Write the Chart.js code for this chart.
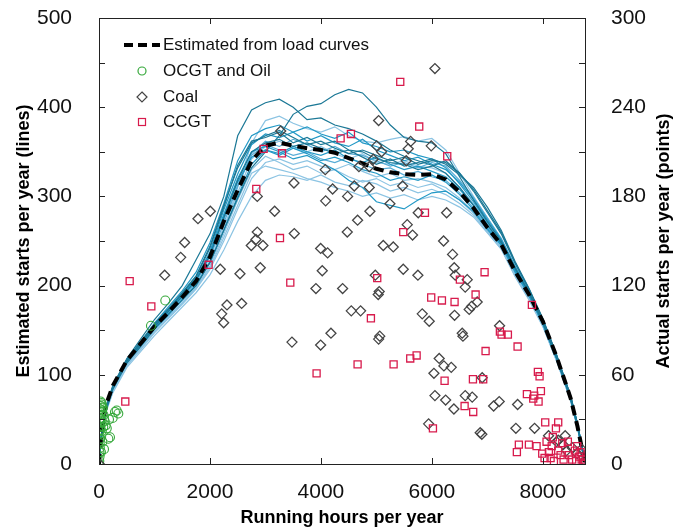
<!DOCTYPE html>
<html>
<head>
<meta charset="utf-8">
<script src="https://cdn.jsdelivr.net/npm/chart.js@4.4.1/dist/chart.umd.min.js"></script>
<style>
html, body { margin: 0; padding: 0; background: #fff; }
#wrap { width: 677px; height: 532px; }
</style>
</head>
<body>
<div id="wrap"><canvas id="chart" width="677" height="532"></canvas></div>
<script>
// running hours grid shared by all the load-curve lines
const hours = [0, 50, 125, 250, 500, 750, 1000, 1250, 1500, 1750, 2000, 2250, 2500, 2750, 3000, 3250, 3500, 3750, 4000, 4250, 4500, 4750, 5000, 5250, 5500, 5750, 6000, 6250, 6500, 6750, 7000, 7250, 7500, 7750, 8000, 8250, 8500, 8625, 8760]

const estimated = [0, 38, 66, 88, 116, 135, 154, 170, 187, 205, 232, 272, 307, 340, 357, 360, 357, 354, 352, 349, 343, 337, 331, 327, 325, 324, 325, 319, 305, 287, 265, 246, 216, 190, 160, 120, 74, 42, 0]

const sim01 = [0, 36, 64, 88, 118, 140, 162, 180, 200, 229, 258, 300, 368, 397, 405, 409, 400, 386, 388, 380, 376, 370, 362, 352, 345, 340, 335, 326, 310, 290, 268, 248, 219, 192, 160, 120, 75, 44, 2]
const sim02 = [0, 34, 60, 84, 113, 132, 152, 168, 184, 200, 226, 262, 298, 332, 350, 368, 392, 401, 404, 414, 420, 416, 400, 380, 366, 362, 360, 348, 322, 296, 272, 250, 220, 192, 158, 118, 73, 42, 1]
const sim03 = [0, 36, 63, 87, 117, 137, 158, 176, 194, 215, 248, 292, 340, 368, 376, 380, 372, 378, 370, 365, 372, 360, 356, 350, 352, 346, 342, 332, 314, 294, 271, 250, 219, 191, 159, 119, 74, 43, 1]
const sim04 = [0, 35, 62, 86, 116, 135, 155, 172, 190, 208, 238, 285, 325, 358, 370, 366, 372, 362, 368, 360, 356, 364, 352, 346, 340, 344, 336, 330, 316, 297, 274, 252, 221, 193, 160, 120, 75, 44, 2]
const sim05 = [0, 34, 61, 85, 114, 133, 153, 169, 186, 204, 232, 270, 312, 348, 362, 356, 364, 358, 350, 356, 348, 346, 340, 334, 338, 332, 338, 334, 318, 299, 276, 253, 222, 194, 161, 121, 76, 45, 2]
const sim06 = [0, 35, 63, 86, 116, 136, 156, 173, 191, 210, 242, 288, 335, 362, 366, 372, 360, 366, 358, 362, 352, 350, 342, 338, 336, 330, 334, 340, 326, 306, 282, 258, 225, 196, 162, 122, 76, 45, 2]
const sim07 = [0, 33, 60, 84, 113, 132, 151, 167, 184, 201, 226, 262, 300, 336, 352, 348, 356, 350, 346, 352, 342, 338, 344, 336, 330, 334, 328, 322, 308, 290, 268, 247, 217, 190, 158, 118, 73, 42, 1]
const sim08 = [0, 35, 62, 85, 115, 134, 154, 171, 188, 206, 234, 276, 318, 350, 360, 364, 356, 360, 354, 348, 352, 344, 336, 342, 334, 338, 342, 336, 324, 310, 288, 262, 227, 197, 163, 122, 77, 45, 2]
const sim09 = [0, 34, 61, 84, 113, 132, 151, 167, 183, 200, 225, 262, 310, 360, 385, 390, 382, 376, 372, 378, 368, 362, 360, 364, 367, 362, 365, 352, 326, 300, 276, 252, 221, 193, 160, 120, 75, 44, 2]
const sim10 = [0, 33, 59, 82, 110, 128, 147, 163, 179, 196, 218, 250, 286, 320, 338, 342, 336, 340, 334, 330, 336, 328, 322, 326, 318, 320, 316, 310, 298, 282, 262, 243, 213, 187, 156, 116, 72, 41, 1]
const sim11 = [0, 32, 58, 80, 108, 126, 144, 160, 176, 192, 212, 240, 272, 300, 318, 324, 322, 318, 324, 316, 312, 318, 314, 306, 310, 304, 308, 302, 292, 279, 260, 241, 211, 185, 155, 116, 71, 40, 1]
const sim12 = [0, 34, 60, 83, 112, 130, 149, 165, 181, 198, 222, 258, 296, 330, 345, 338, 330, 334, 326, 330, 322, 316, 320, 312, 316, 310, 314, 306, 296, 281, 261, 242, 212, 186, 155, 116, 72, 41, 1]
const sim13 = [0, 35, 62, 86, 116, 136, 156, 173, 190, 208, 236, 278, 316, 344, 352, 346, 354, 348, 340, 344, 338, 330, 326, 318, 322, 318, 324, 316, 302, 285, 264, 246, 216, 189, 157, 118, 73, 42, 1]
const sim14 = [0, 34, 61, 85, 114, 133, 153, 170, 187, 206, 234, 274, 312, 346, 358, 352, 346, 350, 342, 338, 344, 336, 330, 332, 324, 328, 322, 318, 304, 287, 266, 247, 217, 190, 158, 119, 74, 43, 1]
const sim15 = [0, 34, 61, 84, 113, 132, 152, 168, 185, 202, 228, 266, 304, 342, 356, 362, 354, 350, 356, 348, 342, 348, 338, 336, 340, 334, 332, 326, 310, 292, 270, 249, 219, 191, 159, 119, 74, 43, 1]
const sim16 = [0, 35, 62, 85, 115, 135, 155, 171, 188, 207, 236, 280, 320, 350, 356, 350, 342, 346, 338, 330, 318, 310, 294, 290, 286, 296, 304, 306, 296, 283, 263, 245, 215, 189, 157, 118, 73, 42, 1]
const sim17 = [0, 36, 63, 87, 117, 137, 157, 174, 192, 211, 244, 290, 332, 360, 368, 374, 366, 358, 362, 354, 348, 352, 346, 340, 344, 336, 340, 338, 326, 308, 284, 260, 226, 196, 162, 121, 76, 44, 2]
const sim18 = [0, 33, 59, 82, 111, 129, 148, 164, 180, 197, 220, 254, 290, 326, 334, 330, 326, 320, 316, 310, 306, 300, 304, 298, 302, 296, 300, 296, 288, 277, 259, 241, 210, 184, 154, 115, 71, 40, 1]

// actual plant starts (right axis)
const ocgtHours = [0, 5, 10, 8, 15, 12, 20, 6, 18, 25, 10, 30, 22, 40, 15, 35, 48, 60, 28, 45, 70, 55, 80, 18, 77, 100, 120, 140, 168, 198, 246, 288, 319, 348, 180, 60, 90, 35, 50, 65, 937, 1195]
const ocgtStarts = [0, 2, 5, 8, 11, 14, 17, 20, 23, 25, 28, 30, 33, 35, 37, 39, 40, 38, 42, 41, 38, 36, 33, 31, 25, 29, 26, 24, 17, 18, 31, 35, 36, 34, 30, 15, 10, 8, 22, 28, 93, 110]

const coalHours = [3275, 2853, 3514, 4078, 4211, 4085, 2006, 1784, 3166, 2853, 2829, 2745, 2955, 3520, 3995, 4121, 1544, 1472, 1184, 2186, 2541, 2907, 2307, 2571, 2211, 2247, 3478, 3995, 4181, 3910, 4024, 4391, 5, 5124, 5304, 6211, 6373, 6403, 6421, 6637, 6601, 5484, 5748, 4980, 5051, 5033, 4547, 4715, 5040, 5060, 5826, 5952, 6409, 6817, 6715, 6673, 6547, 6560, 7220, 6132, 6217, 6349, 6037, 6907, 6055, 6248, 6397, 6601, 6727, 7113, 7214, 7545, 5941, 6871, 6900, 7514, 7851, 8103, 8248, 8403, 8277, 8367, 8427, 8529, 8619, 8698, 8750, 6055, 5040, 5617, 5574, 5988, 5004, 5094, 4943, 4871, 4685, 5538, 4601, 4871, 5473, 4481, 5244, 4883, 5754, 6266, 4661, 5556, 5652, 4475]
const coalStarts = [224, 180, 189, 198, 185, 177, 170, 165, 170, 156, 151, 147, 147, 155, 145, 142, 149, 139, 127, 131, 128, 132, 107, 108, 101, 95, 82, 80, 88, 118, 130, 118, 0, 147, 146, 150, 141, 132, 127, 124, 119, 131, 127, 127, 116, 114, 103, 103, 84, 86, 101, 96, 100, 109, 106, 104, 88, 86, 93, 71, 66, 65, 61, 58, 46, 43, 37, 46, 45, 39, 42, 40, 27, 21, 20, 24, 24, 19, 15, 19, 16, 13, 9, 11, 7, 10, 2, 266, 231, 217, 212, 214, 214, 210, 205, 200, 200, 204, 187, 186, 187, 180, 175, 170, 169, 169, 164, 161, 154, 156]

const ccgtHours = [2967, 3298, 2835, 3262, 4355, 553, 943, 1976, 3448, 3922, 474, 5015, 6950, 6505, 6788, 5988, 6181, 6409, 4901, 7226, 7256, 7370, 7545, 6968, 7803, 4661, 5310, 5610, 5725, 6229, 6740, 6925, 6590, 6745, 6019, 7911, 7941, 7713, 7845, 7827, 7923, 7965, 8043, 8277, 8236, 7568, 7749, 7532, 7887, 7989, 8067, 8109, 8140, 8031, 8277, 8374, 8451, 8529, 8578, 8655, 8728, 8752, 8680, 5430, 5772, 6277, 4541, 5875, 5484, 8160, 8200, 8320, 8470, 8600, 8700, 8620, 8350, 8180, 8760]
const ccgtStarts = [212, 209, 185, 152, 219, 123, 106, 134, 122, 61, 42, 125, 129, 124, 114, 112, 110, 109, 98, 89, 87, 87, 79, 76, 107, 67, 67, 71, 73, 56, 57, 57, 39, 35, 24, 62, 59, 47, 46, 44, 42, 49, 28, 28, 24, 13, 13, 8, 12, 7, 15, 8, 4, 4, 9, 3, 15, 3, 9, 5, 1, 0, 8, 257, 227, 207, 222, 169, 156, 12, 2, 6, 6, 2, 3, 12, 14, 18, 0]

// axis ticks
const xTicks = [0, 2000, 4000, 6000, 8000]
const leftLabels = [0, 100, 200, 300, 400, 500]
const leftMarks = [0, 50, 100, 150, 200, 250, 300, 350, 400, 450, 500]
const rightLabels = [0, 60, 120, 180, 240, 300]
const rightMarks = [0, 30, 60, 90, 120, 150, 180, 210, 240, 270, 300]

const DARK = '#1b7896'
const MID = '#2399c6'
const SOFT = '#56acd6'
const LIGHT = '#8cc4e3'

const sims = [
    [sim11, LIGHT], [sim18, LIGHT], [sim12, LIGHT], [sim10, LIGHT], [sim15, LIGHT], [sim09, LIGHT],
    [sim05, SOFT], [sim14, SOFT], [sim13, MID], [sim16, MID], [sim07, MID], [sim04, MID], [sim03, MID],
    [sim17, DARK], [sim08, DARK], [sim06, DARK], [sim02, DARK], [sim01, DARK]
]

const FONT = '"Liberation Sans", Arial, Helvetica, sans-serif'

function xy(xs, ys) {
    return xs.map((x, i) => ({x: x, y: ys[i]}))
}

const datasets = []
datasets.push({type: 'scatter', data: xy(ccgtHours, ccgtStarts), yAxisID: 'y2', order: 0,
    pointStyle: 'rect', pointRadius: 5, borderColor: '#d81b4c', backgroundColor: 'transparent', pointBorderWidth: 1.3})
datasets.push({type: 'scatter', data: xy(coalHours, coalStarts), yAxisID: 'y2', order: 1,
    pointStyle: 'rectRot', pointRadius: 5, borderColor: '#454545', backgroundColor: 'transparent', pointBorderWidth: 1.3})
datasets.push({type: 'scatter', data: xy(ocgtHours, ocgtStarts), yAxisID: 'y2', order: 2,
    pointStyle: 'circle', pointRadius: 4.5, borderColor: '#35a83a', backgroundColor: 'transparent', pointBorderWidth: 1.1})
datasets.push({type: 'line', data: xy(hours, estimated), yAxisID: 'y', order: 3,
    borderColor: '#000', borderWidth: 4, borderDash: [10, 6], pointRadius: 0, tension: 0, fill: false})
sims.forEach((s, i) => {
    datasets.push({type: 'line', data: xy(hours, s[0]), yAxisID: 'y', order: 40 - i,
        borderColor: s[1], borderWidth: 1.2, pointRadius: 0, tension: 0, fill: false})
})

const framePlugin = {
    id: 'frame',
    afterDraw(chart) {
        const ctx = chart.ctx
        const a = chart.chartArea
        const sx = chart.scales.x, sy = chart.scales.y, sy2 = chart.scales.y2
        ctx.save()
        ctx.strokeStyle = '#222'
        ctx.lineWidth = 1
        ctx.setLineDash([])
        ctx.strokeRect(Math.round(a.left) + 0.5, Math.round(a.top) + 0.5, Math.round(a.right - a.left), Math.round(a.bottom - a.top))
        ctx.beginPath()
        leftMarks.forEach(v => {
            const y = Math.round(sy.getPixelForValue(v)) + 0.5
            ctx.moveTo(a.left, y); ctx.lineTo(a.left + 6, y)
        })
        rightMarks.forEach(v => {
            const y = Math.round(sy2.getPixelForValue(v)) + 0.5
            ctx.moveTo(a.right, y); ctx.lineTo(a.right - 6, y)
        })
        xTicks.forEach(v => {
            const x = Math.round(sx.getPixelForValue(v)) + 0.5
            ctx.moveTo(x, a.bottom); ctx.lineTo(x, a.bottom - 6)
            ctx.moveTo(x, a.top); ctx.lineTo(x, a.top + 6)
        })
        ctx.stroke()

        // axis titles
        ctx.fillStyle = '#000'
        ctx.font = 'bold 18px ' + FONT
        ctx.textAlign = 'center'
        ctx.textBaseline = 'middle'
        ctx.fillText('Running hours per year', (a.left + a.right) / 2, 518)
        ctx.save()
        ctx.translate(24, (a.top + a.bottom) / 2)
        ctx.rotate(-Math.PI / 2)
        ctx.fillText('Estimated starts per year (lines)', 0, 0)
        ctx.restore()
        ctx.save()
        ctx.translate(664, (a.top + a.bottom) / 2)
        ctx.rotate(-Math.PI / 2)
        ctx.fillText('Actual starts per year (points)', 0, 0)
        ctx.restore()

        // legend
        const lx = a.left + 43, tx = a.left + 64
        ctx.font = '17px ' + FONT
        ctx.textAlign = 'left'
        ctx.fillStyle = '#111'
        ctx.strokeStyle = '#000'
        ctx.lineWidth = 4
        ctx.setLineDash([9, 5])
        ctx.beginPath(); ctx.moveTo(a.left + 25, 45); ctx.lineTo(a.left + 61, 45); ctx.stroke()
        ctx.setLineDash([])
        ctx.fillText('Estimated from load curves', tx, 45)
        ctx.lineWidth = 1.2
        ctx.strokeStyle = '#35a83a'
        ctx.beginPath(); ctx.arc(lx, 71, 4, 0, Math.PI * 2); ctx.stroke()
        ctx.fillText('OCGT and Oil', tx, 71)
        ctx.strokeStyle = '#454545'
        ctx.beginPath(); ctx.moveTo(lx, 92); ctx.lineTo(lx + 5, 97); ctx.lineTo(lx, 102); ctx.lineTo(lx - 5, 97); ctx.closePath(); ctx.stroke()
        ctx.fillText('Coal', tx, 97)
        ctx.strokeStyle = '#d81b4c'
        ctx.strokeRect(lx - 3.5, 118.5, 7, 7)
        ctx.fillText('CCGT', tx, 122)
        ctx.restore()
    }
}

const tickFont = {family: FONT, size: 21}
const plain = v => String(v)

const chart = new Chart(document.getElementById('chart').getContext('2d'), {
    data: {datasets: datasets},
    options: {
        responsive: false,
        animation: false,
        devicePixelRatio: 1,
        layout: {padding: {top: 18, left: 0, right: 0, bottom: 0}},
        plugins: {legend: {display: false}, tooltip: {enabled: false}},
        scales: {
            x: {
                type: 'linear', min: 0, max: 8760,
                afterBuildTicks: s => { s.ticks = xTicks.map(v => ({value: v})) },
                afterFit: s => { s.height = 68; s.paddingLeft = 0; s.paddingRight = 0 },
                ticks: {font: tickFont, color: '#111', padding: 8, maxRotation: 0, autoSkip: false, callback: plain},
                grid: {display: false}, border: {display: false}
            },
            y: {
                type: 'linear', position: 'left', min: 0, max: 500,
                afterBuildTicks: s => { s.ticks = leftLabels.map(v => ({value: v})) },
                afterFit: s => { s.width = 99; s.paddingTop = 0; s.paddingBottom = 0 },
                ticks: {font: tickFont, color: '#111', padding: 19, callback: plain},
                grid: {display: false}, border: {display: false}
            },
            y2: {
                type: 'linear', position: 'right', min: 0, max: 300,
                afterBuildTicks: s => { s.ticks = rightLabels.map(v => ({value: v})) },
                afterFit: s => { s.width = 92; s.paddingTop = 0; s.paddingBottom = 0 },
                ticks: {font: tickFont, color: '#111', padding: 18, callback: plain},
                grid: {display: false}, border: {display: false}
            }
        }
    },
    plugins: [framePlugin]
})
</script>
</body>
</html>
